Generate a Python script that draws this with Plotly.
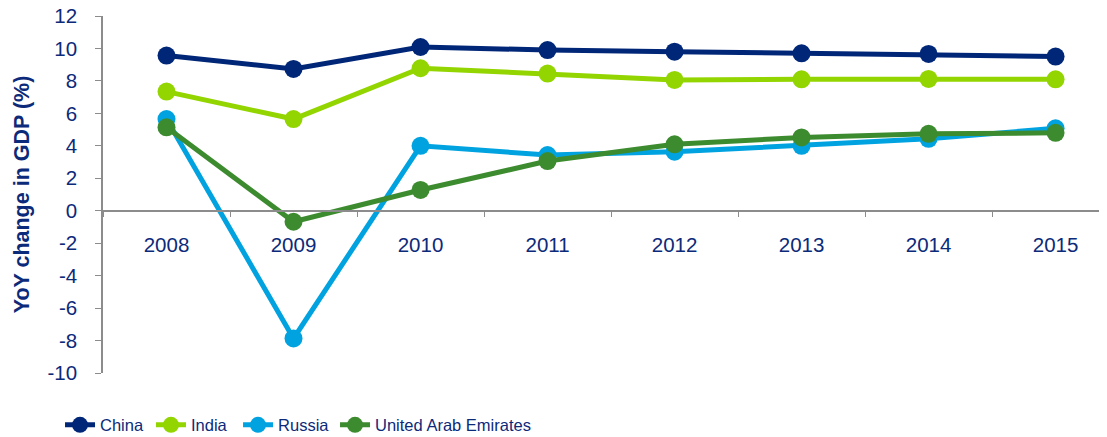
import plotly.graph_objects as go

years = ["2008", "2009", "2010", "2011", "2012", "2013", "2014", "2015"]
china = [9.56, 8.74, 10.09, 9.9, 9.8, 9.7, 9.66, 9.5]
india = [7.34, 5.65, 8.78, 8.45, 8.06, 8.1, 8.12, 8.1]
russia = [5.65, -7.87, 4.0, 3.43, 3.64, 4.0, 4.43, 5.08]
uae = [5.14, -0.68, 1.28, 3.06, 4.09, 4.52, 4.74, 4.8]
y_ticks = [-10, -8, -6, -4, -2, 0, 2, 4, 6, 8, 10, 12]
y_tick_labels = ["-10", "-8", "-6", "-4", "-2", "0", "2", "4", "6", "8", "10", "12"]

series = [
    ("China", china, "#002677"),
    ("India", india, "#93d500"),
    ("Russia", russia, "#00a3e0"),
    ("United Arab Emirates", uae, "#3d8b2f"),
]
legend_x = [-0.0428, 0.0478, 0.1345, 0.2311]

navy = "#0c2a7a"
fig = go.Figure()
legend_names = ["legend", "legend2", "legend3", "legend4"]
for (name, vals, col), lg in zip(series, legend_names):
    fig.add_trace(go.Scatter(
        x=years, y=vals, name=name, mode="lines+markers",
        line=dict(color=col, width=5),
        marker=dict(color=col, size=18),
        legend=lg,
    ))

legend_common = dict(orientation="h", y=-0.146, xanchor="left", yanchor="middle",
                     font=dict(size=16.5, color=navy), itemwidth=30,
                     bgcolor="rgba(0,0,0,0)")
legends = {lg: dict(legend_common, x=lx) for lg, lx in zip(legend_names, legend_x)}

# page body has an 8px margin, so the figure is sized to fit the window exactly
fig.update_layout(
    width=1099, height=429,
    margin=dict(l=95, r=0, t=8, b=64, autoexpand=False),
    paper_bgcolor="white", plot_bgcolor="white",
    font=dict(family="Liberation Sans, Arial, sans-serif", color=navy, size=20),
    showlegend=True,
    **legends,
    xaxis=dict(
        type="category", range=[-0.5, 7.405],
        showline=True, linecolor="#8c8c8c", linewidth=1.5,
        ticks="outside", ticklen=6, tickcolor="#8c8c8c", tickwidth=1,
        tickson="boundaries", showgrid=False, zeroline=False,
        anchor="free", position=10/22, ticklabelstandoff=16,
        tickfont=dict(size=20.5, color=navy), automargin=False,
        ticklabeloverflow="allow",
    ),
    yaxis=dict(
        range=[-10, 12], showgrid=False, zeroline=False,
        tickmode="array", tickvals=y_ticks, ticktext=y_tick_labels,
        showline=True, linecolor="#8c8c8c", linewidth=1.5,
        ticks="outside", ticklen=6, tickcolor="#8c8c8c",
        ticklabelstandoff=14, automargin=False,
        ticklabeloverflow="allow",
        tickfont=dict(size=20.5, color=navy),
        title=dict(text="<b>YoY change in GDP (%)</b>", font=dict(size=21.5, color=navy), standoff=12),
    ),
)

fig.write_html("out.html")
